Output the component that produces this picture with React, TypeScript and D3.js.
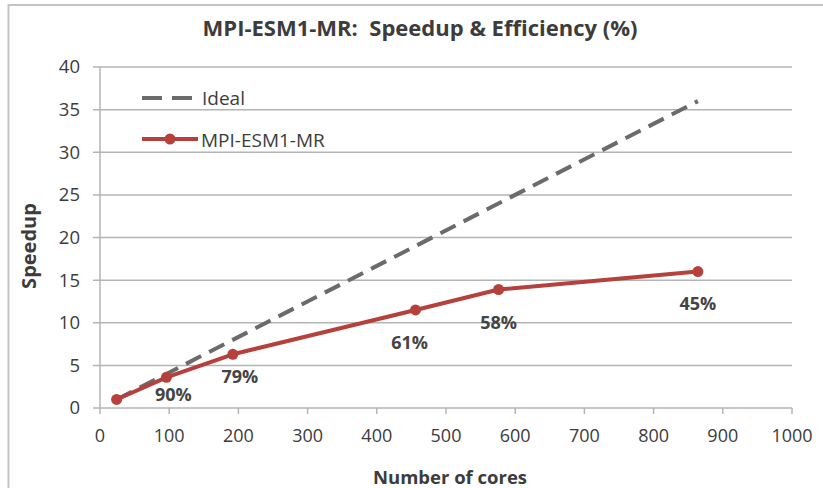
import * as React from 'react';
import * as d3 from 'd3';

const cores = [24, 96, 192, 456, 576, 864];
const speedup = [1, 3.6, 6.3, 11.5, 13.9, 16.0];
const efficiencyLabels = ['', '90%', '79%', '61%', '58%', '45%'];
const idealCores = [24, 864];
const idealSpeedup = [1, 36];
const xTicks = [0, 100, 200, 300, 400, 500, 600, 700, 800, 900, 1000];
const yTicks = [0, 5, 10, 15, 20, 25, 30, 35, 40];

const W = 823;
const H = 488;
const margin = { top: 67, right: 31, bottom: 80, left: 100 };
const FONT = "'Open Sans', 'Noto Sans', sans-serif";
const RED = '#b5403c';
const GRAY = '#6b6b6b';
const GRID = '#b4b4b4';
const TEXT = '#3c3c3c';

// hand-placed label nudges (px) like in the original spreadsheet chart
const labelNudge: [number, number][] = [[0, 0], [7, 17], [7, 22], [-6, 33], [0, 33], [0, 32]];

export default function App() {
    const x = d3.scaleLinear().domain([0, 1000]).range([margin.left, W - margin.right]);
    const y = d3.scaleLinear().domain([0, 40]).range([H - margin.bottom, margin.top]);

    const line = d3.line<[number, number]>()
        .x((d) => x(d[0]))
        .y((d) => y(d[1]));

    const measured: [number, number][] = cores.map((c, i) => [c, speedup[i]]);
    const ideal: [number, number][] = idealCores.map((c, i) => [c, idealSpeedup[i]]);

    return (
        <svg width={W} height={H} style={{ position: 'absolute', left: 0, top: 0, background: '#fff' }}
            fontFamily={FONT}>
            {/* outer frame */}
            <rect x={8.5} y={5} width={W + 10} height={H + 10} fill="none" stroke="#c4c4c4" strokeWidth={2} />

            <text x={420} y={36} textAnchor="middle" fontSize={22} fontWeight="bold" fill={TEXT}>
                MPI-ESM1-MR:{'\u00a0\u00a0'}Speedup &amp; Efficiency (%)
            </text>

            {/* horizontal grid */}
            {yTicks.map((t) => (
                <g key={'y' + t}>
                    <line x1={x(0) - 7} x2={x(1000)} y1={y(t)} y2={y(t)} stroke={GRID} strokeWidth={1.5} />
                    <text x={80} y={y(t)} dy="0.35em" textAnchor="end" fontSize={18.5} fill={TEXT}>{t}</text>
                </g>
            ))}
            {/* y axis */}
            <line x1={x(0)} x2={x(0)} y1={y(0)} y2={y(40)} stroke={GRID} strokeWidth={1.5} />

            {/* x ticks */}
            {xTicks.map((t) => (
                <g key={'x' + t}>
                    <line x1={x(t)} x2={x(t)} y1={y(0)} y2={y(0) + 6} stroke={GRID} strokeWidth={1.5} />
                    <text x={x(t)} y={436} dy="0.35em" textAnchor="middle" fontSize={18} fill={TEXT}>{t}</text>
                </g>
            ))}

            <text x={450} y={478} dy="0.35em" textAnchor="middle" fontSize={18.5} fontWeight="bold" fill={TEXT}>
                Number of cores
            </text>
            <text transform={`translate(29,246) rotate(-90)`} dy="0.35em" textAnchor="middle" fontSize={20}
                fontWeight="bold" fill={TEXT}>
                Speedup
            </text>

            {/* ideal */}
            <path d={line(ideal) || ''} fill="none" stroke={GRAY} strokeWidth={4} strokeDasharray="17,9" />

            {/* measured */}
            <path d={line(measured) || ''} fill="none" stroke={RED} strokeWidth={4} strokeLinejoin="round" />
            {measured.map((d, i) => (
                <circle key={'p' + i} cx={x(d[0])} cy={y(d[1])} r={5.5} fill={RED} />
            ))}
            {measured.map((d, i) => (
                <text key={'l' + i} x={x(d[0]) + labelNudge[i][0]} y={y(d[1]) + labelNudge[i][1]} dy="0.35em"
                    textAnchor="middle" fontSize={18} fontWeight="bold" fill="#444">
                    {efficiencyLabels[i]}
                </text>
            ))}

            {/* legend */}
            <line x1={142} x2={192} y1={98} y2={98} stroke={GRAY} strokeWidth={4} strokeDasharray="20,10" />
            <text x={202} y={98} dy="0.35em" fontSize={19} fill={TEXT}>Ideal</text>
            <line x1={142} x2={198} y1={139} y2={139} stroke={RED} strokeWidth={4} />
            <circle cx={170} cy={139} r={5.5} fill={RED} />
            <text x={201} y={140} dy="0.35em" fontSize={19} fill={TEXT}>MPI-ESM1-MR</text>
        </svg>
    );
}
